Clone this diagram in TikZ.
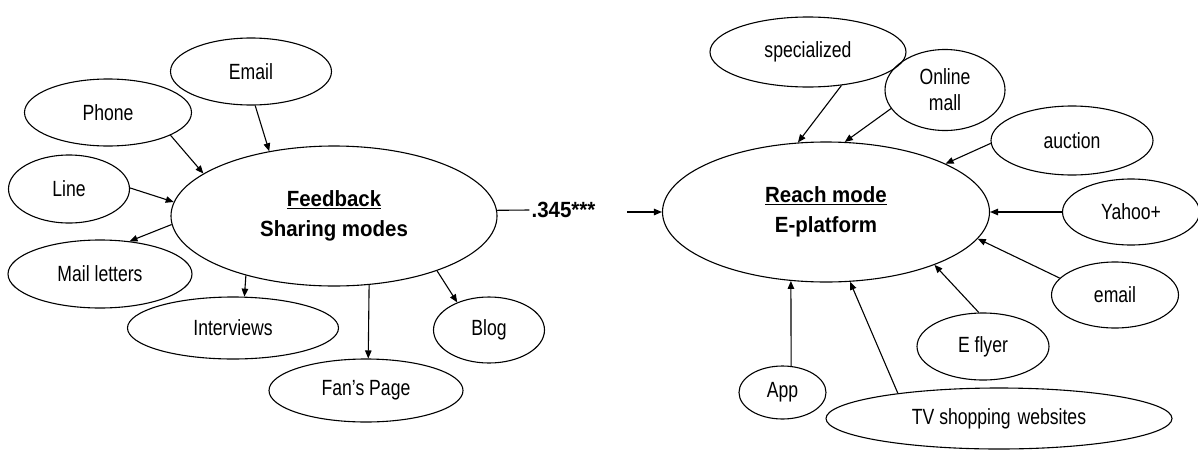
\documentclass[tikz,border=0pt]{standalone}
\usepackage{fontspec}
\setmainfont{Liberation Sans}[FakeStretch=0.8, BoldFeatures={FakeStretch=0.93}]
\usetikzlibrary{shapes.geometric,arrows.meta}

\begin{document}
\begin{tikzpicture}[x=1pt,y=-1pt,
  oval/.style={ellipse, draw, line width=1.1pt, inner sep=0pt,
    font=\fontsize{22}{26}\selectfont, align=center},
  hub/.style={oval, font=\bfseries\fontsize{22}{30}\selectfont},
  link/.style={line width=1.1pt, -{Triangle[length=8pt,width=6.5pt]}},
  coef/.style={font=\bfseries\fontsize{22}{26}\selectfont, inner sep=2pt}]
\useasboundingbox (0,0) rectangle (1198,450);

% sharing modes
\node[hub, minimum width=326pt, minimum height=140pt] (fb) at (334,216)
  {\raisebox{4pt}{\underline{Feedback}}\\\raisebox{4pt}{Sharing modes}};
\node[oval, minimum width=161pt, minimum height=67pt] (email) at (251,71.5) {Email};
\node[oval, minimum width=167pt, minimum height=67pt] (phone) at (108,112.5) {Phone};
\node[oval, minimum width=121pt, minimum height=68pt] (line) at (69,189) {Line};
\node[oval, minimum width=184pt, minimum height=68pt] (mail) at (100,274) {Mail letters};
\node[oval, minimum width=211pt, minimum height=62pt] (iv) at (233,328) {Interviews};
\node[oval, minimum width=194pt, minimum height=63pt] (fan) at (366,390.5) {Fan’s Page};
\node[oval, minimum width=111pt, minimum height=66pt] (blog) at (489,330) {Blog};

% reach modes
\node[hub, minimum width=327pt, minimum height=140pt] (reach) at (826,212)
  {\raisebox{3pt}{\underline{Reach mode}}\\\raisebox{3pt}{E-platform}};
\node[oval, minimum width=196pt, minimum height=70pt] (spec) at (808,52) {specialized};
\node[oval, minimum width=120pt, minimum height=81pt] (mall) at (945,90) {Online\\mall};
\node[oval, minimum width=162pt, minimum height=69pt] (auction) at (1072,140.5) {auction};
\node[oval, minimum width=137pt, minimum height=66pt] (yahoo) at (1131,212) {Yahoo+};
\node[oval, minimum width=127pt, minimum height=66pt] (emailr) at (1115,295) {email};
\node[oval, minimum width=132pt, minimum height=67pt] (flyer) at (983,346.5) {E flyer};
\node[oval, minimum width=87pt, minimum height=53pt] (app) at (782.5,392.5) {App};
\node[oval, minimum width=346pt, minimum height=61pt] (tv) at (999,418.5) {TV shopping\hspace{2pt} websites};

% path coefficient
\node[coef] (coef) at (563.5,210) {.345***};
\coordinate (c0) at (627,212);
\draw[line width=1.1pt] (fb.2) -- (coef.west);
\draw[link] (c0) -- (reach);

% incoming and outgoing links of the sharing hub
\draw[link] (email.-83) -- (fb.135.9);
\draw[link] (phone.-20) -- (fb.162.3);
\draw[link] (line.1) -- (fb.175);
\draw[link] (fb.-177) -- (mail.48.6);
\draw[link] (fb.-146.7) -- (iv.70.5);
\draw[link] (fb.-63.6) -- (fan.86.4);
\draw[link] (fb.-28.1) -- (blog.139.6);

% links into the reach hub
\draw[link] (spec.-45.9) -- (reach.112.1);
\draw[link] (mall.-161.3) -- (reach.75.5);
\draw[link] (auction.182) -- (reach.22.7);
\draw[link] (yahoo) -- (reach);
\draw[link] (emailr.163.4) -- (reach.-10.9);
\draw[link] (flyer.97) -- (reach.-26);
\draw[link] (app.72) -- (reach.-117.1);
\draw[link] (tv.166.7) -- (reach.-71);
\end{tikzpicture}
\end{document}
